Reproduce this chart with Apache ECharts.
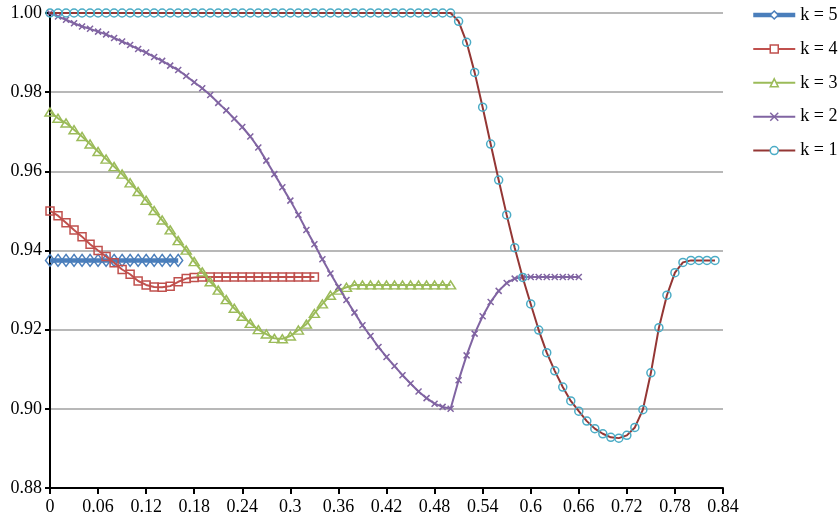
<!DOCTYPE html>
<html><head><meta charset="utf-8">
<script src="https://cdn.jsdelivr.net/npm/echarts@6/dist/echarts.min.js"></script>
<style>html,body{margin:0;padding:0;background:#fff}#c{width:840px;height:521px}</style>
</head><body><div id="c"></div>
<script>
const xStep = 0.01;
const seriesNames = ['k = 5','k = 4','k = 3','k = 2','k = 1'];
const k5 = [0.9375,0.9375,0.9375,0.9375,0.9375,0.9375,0.9375,0.9375,0.9375,0.9375,0.9375,0.9375,0.9375,0.9375,0.9375,0.9375,0.9375];
const k4 = [0.9500,0.9488,0.9470,0.9452,0.9435,0.9416,0.9400,0.9385,0.9369,0.9352,0.9340,0.9323,0.9313,0.9308,0.9307,0.9310,0.9321,0.9329,0.9332,
  0.9333,0.9333,0.9333,0.9333,0.9333,0.9333,0.9333,0.9333,0.9333,0.9333,0.9333,0.9333,0.9333,0.9333,0.9333];
const k3 = [0.9750,0.9734,0.9722,0.9705,0.9688,0.9669,0.9650,0.9631,0.9612,0.9593,0.9571,0.9549,0.9527,0.9501,0.9477,0.9452,0.9425,0.9401,0.9372,0.9346,
  0.9321,0.9300,0.9276,0.9254,0.9234,0.9216,0.9200,0.9189,0.9178,0.9177,0.9184,0.9199,0.9214,0.9241,0.9265,0.9287,0.9300,0.9307,
  0.9313,0.9313,0.9313,0.9313,0.9313,0.9313,0.9313,0.9313,0.9313,0.9313,0.9313,0.9313,0.9313];
const k2 = [1.0000,0.9991,0.9983,0.9974,0.9966,0.9960,0.9953,0.9946,0.9937,0.9928,
  0.9919,0.9909,0.9900,0.9889,0.9879,0.9867,0.9856,0.9841,0.9825,0.9810,
  0.9793,0.9773,0.9754,0.9733,0.9712,0.9688,0.9660,0.9627,0.9593,0.9560,
  0.9526,0.9490,0.9452,0.9416,0.9378,0.9342,0.9308,0.9275,0.9243,0.9211,
  0.9184,0.9156,0.9131,0.9108,0.9085,0.9064,0.9044,0.9027,0.9013,0.9005,
  0.9000,0.9072,0.9135,0.9190,0.9234,0.9270,0.9298,0.9318,0.9329,
  0.9333,0.9333,0.9333,0.9333,0.9333,0.9333,0.9333,0.9333];
const k1 = [1.0000,1.0000,1.0000,1.0000,1.0000,1.0000,1.0000,1.0000,1.0000,1.0000,
  1.0000,1.0000,1.0000,1.0000,1.0000,1.0000,1.0000,1.0000,1.0000,1.0000,
  1.0000,1.0000,1.0000,1.0000,1.0000,1.0000,1.0000,1.0000,1.0000,1.0000,
  1.0000,1.0000,1.0000,1.0000,1.0000,1.0000,1.0000,1.0000,1.0000,1.0000,
  1.0000,1.0000,1.0000,1.0000,1.0000,1.0000,1.0000,1.0000,1.0000,1.0000,
  1.0000,0.9979,0.9926,0.9850,0.9762,0.9669,0.9578,0.9490,0.9407,0.9332,
  0.9265,0.9199,0.9142,0.9096,0.9055,0.9020,0.8994,0.8969,0.8950,0.8937,
  0.8928,0.8926,0.8933,0.8953,0.8998,0.9091,0.9205,0.9287,0.9344,0.9370,
  0.9375,0.9375,0.9375,0.9375];
const xTicks = {min:0, max:0.84, interval:0.06};
const yTicks = {min:0.88, max:1.00, interval:0.02};

function pairs(arr){ return arr.map((v,i)=>[+(i*xStep).toFixed(2), v]); }
const FONT = 'Liberation Serif';
const clear = 'rgba(0,0,0,0)';
const chart = echarts.init(document.getElementById('c'), null, {renderer:'canvas'});
const styles = [
  {line:'#4A7EBB', w:4.5, mark:'#4A7EBB', sym:'diamond', size:[9,12], lfill:'#fff'},
  {line:'#C0504D', w:2, mark:'#C0504D', sym:'rect', size:8, lfill:'#fff'},
  {line:'#9BBB59', w:2, mark:'#9BBB59', sym:'triangle', size:[10,8], lfill:'#fff'},
  {line:'#8064A2', w:2, mark:'#8064A2', sym:'path://M0,0L10,10M10,0L0,10', size:6, lfill:clear},
  {line:'#943634', w:2, mark:'#4BACC6', sym:'circle', size:8, lfill:'#fff'}
];
const datas = [k5,k4,k3,k2,k1];
chart.setOption({
  animation:false,
  backgroundColor:'#fff',
  textStyle:{fontFamily:FONT},
  grid:{left:50, right:117, top:13, bottom:33, containLabel:false},
  legend:{orient:'vertical', left:751, top:5, padding:0, itemWidth:42, itemHeight:10, itemGap:13.9,
    textStyle:{fontFamily:FONT, fontSize:18, color:'#000', lineHeight:20},
    data:seriesNames.map((n,idx)=>({name:n,
      lineStyle:{width:styles[idx].w, color:styles[idx].line},
      itemStyle:{color:styles[idx].lfill, borderColor:styles[idx].mark, borderWidth:1.5}}))},
  xAxis:{type:'value', min:xTicks.min, max:xTicks.max, interval:xTicks.interval,
    axisLine:{onZero:false, lineStyle:{color:'#000', width:2}},
    axisTick:{show:true, length:6, lineStyle:{color:'#000', width:2}},
    splitLine:{show:false},
    axisLabel:{fontFamily:FONT, fontSize:18, color:'#000', margin:10,
      formatter:v=>String(+v.toFixed(2))}},
  yAxis:{type:'value', min:yTicks.min, max:yTicks.max, interval:yTicks.interval,
    axisLine:{show:true, lineStyle:{color:'#000', width:2}},
    axisTick:{show:true, length:5, lineStyle:{color:'#000', width:2}},
    splitLine:{show:true, lineStyle:{color:'#A0A0A0', width:1.5}},
    axisLabel:{fontFamily:FONT, fontSize:18, color:'#000', margin:8,
      formatter:v=>v.toFixed(2)}},
  series: seriesNames.map((n,idx)=>({
    name:n, type:'line', data:pairs(datas[idx]),
    showAllSymbol:true, symbol:styles[idx].sym, symbolSize:styles[idx].size,
    lineStyle:{color:styles[idx].line, width:styles[idx].w},
    itemStyle:{color:clear, borderColor:styles[idx].mark, borderWidth:1.5},
    emphasis:{disabled:true}, z:2+idx
  }))
});
</script></body></html>
